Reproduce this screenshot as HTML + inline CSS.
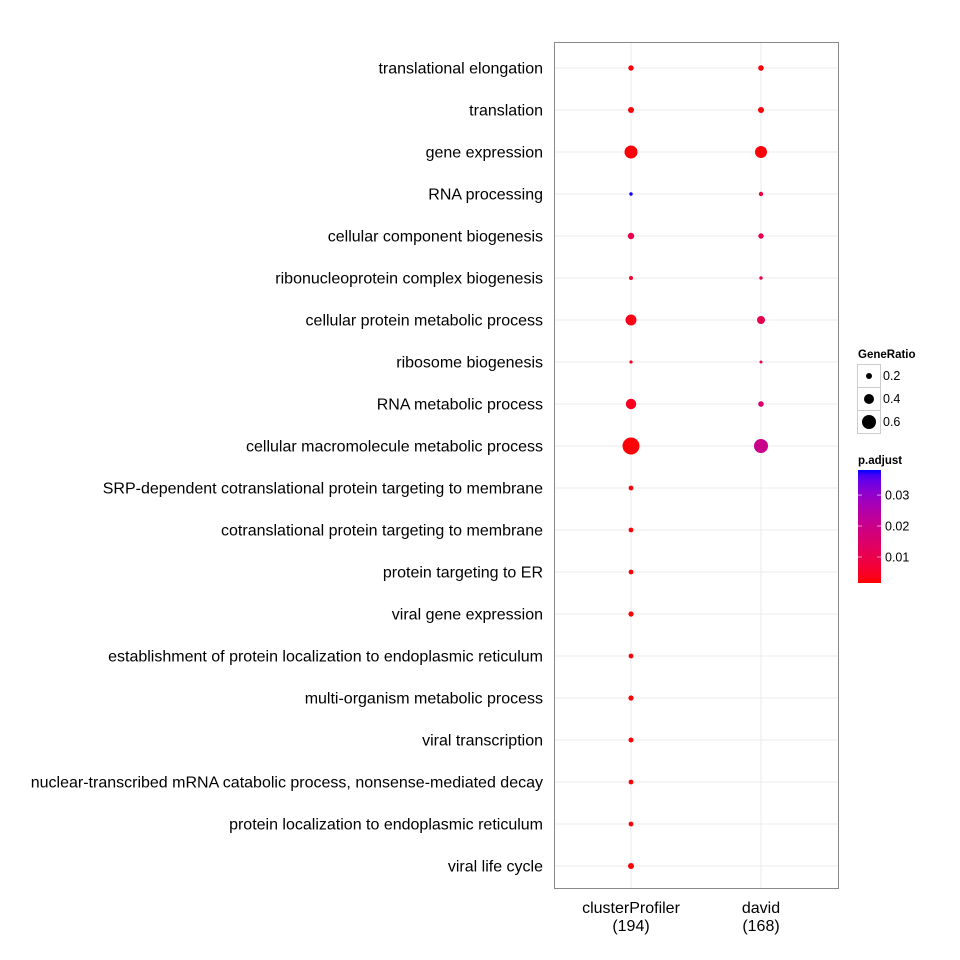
<!DOCTYPE html>
<html><head><meta charset="utf-8"><style>
body{margin:0;background:#fff}
svg{display:block;font-family:"Liberation Sans",Arial,sans-serif}
</style></head><body>
<svg id="chart" width="960" height="960" viewBox="0 0 960 960">
<rect width="960" height="960" fill="#fff"/>
<g id="grid"></g><g id="dots"></g><g id="labels"></g>
<rect x="554.5" y="42.5" width="284" height="846" fill="none" stroke="#888" stroke-width="1"/>
<g id="legend"></g>
</svg>
<script>
const categories=["translational elongation","translation","gene expression","RNA processing","cellular component biogenesis","ribonucleoprotein complex biogenesis","cellular protein metabolic process","ribosome biogenesis","RNA metabolic process","cellular macromolecule metabolic process","SRP-dependent cotranslational protein targeting to membrane","cotranslational protein targeting to membrane","protein targeting to ER","viral gene expression","establishment of protein localization to endoplasmic reticulum","multi-organism metabolic process","viral transcription","nuclear-transcribed mRNA catabolic process, nonsense-mediated decay","protein localization to endoplasmic reticulum","viral life cycle"];
const groups=["clusterProfiler","david"];
const groupCounts=["(194)","(168)"];
const cpRatio=[0.17,0.2,0.55,0.07,0.22,0.1,0.45,0.06,0.42,0.75,0.14,0.14,0.14,0.16,0.14,0.16,0.15,0.14,0.14,0.2];
const cpP=[0.002,0.002,0.002,0.038,0.01,0.005,0.003,0.005,0.004,0.002,0.002,0.002,0.002,0.002,0.002,0.002,0.002,0.002,0.002,0.002];
const davidRatio=[0.18,0.2,0.5,0.12,0.17,0.07,0.3,0.05,0.18,0.6,null,null,null,null,null,null,null,null,null,null];
const davidP=[0.002,0.002,0.002,0.008,0.01,0.01,0.011,0.012,0.016,0.02,null,null,null,null,null,null,null,null,null,null];
const sizeTicks=[0.2,0.4,0.6];
const pTicks=[0.01,0.02,0.03];
const pMin=0.0016,pMax=0.0381;
const NS="http://www.w3.org/2000/svg";
function mk(t,a,p){const e=document.createElementNS(NS,t);for(const k in a)e.setAttribute(k,a[k]);p.appendChild(e);return e;}
const yS=i=>68+i*42;
const xS=g=>631+g*130;
const rS=v=>1+10*v;
// Lab interpolation
function lin(c){c/=255;return c<=0.04045?c/12.92:Math.pow((c+0.055)/1.055,2.4);}
function delin(c){c=c<=0.0031308?12.92*c:1.055*Math.pow(c,1/2.4)-0.055;return Math.round(Math.max(0,Math.min(1,c))*255);}
function toLab(r,g,b){r=lin(r);g=lin(g);b=lin(b);
 let X=(0.4124*r+0.3576*g+0.1805*b)/0.95047,Y=(0.2126*r+0.7152*g+0.0722*b),Z=(0.0193*r+0.1192*g+0.9505*b)/1.08883;
 const f=t=>t>0.008856?Math.cbrt(t):7.787*t+16/116;X=f(X);Y=f(Y);Z=f(Z);
 return [116*Y-16,500*(X-Y),200*(Y-Z)];}
function fromLab(L,a,b){let Y=(L+16)/116,X=a/500+Y,Z=Y-b/200;
 const fi=t=>t*t*t>0.008856?t*t*t:(t-16/116)/7.787;X=fi(X)*0.95047;Y=fi(Y);Z=fi(Z)*1.08883;
 const r=3.2406*X-1.5372*Y-0.4986*Z,g=-0.9689*X+1.8758*Y+0.0415*Z,bb=0.0557*X-0.2040*Y+1.0570*Z;
 return [delin(r),delin(g),delin(bb)];}
const LR=toLab(255,0,0),LB=toLab(0,0,255);
function col(p){let t=(p-pMin)/(pMax-pMin);t=Math.max(0,Math.min(1,t));
 const c=fromLab(LR[0]+(LB[0]-LR[0])*t,LR[1]+(LB[1]-LR[1])*t,LR[2]+(LB[2]-LR[2])*t);return `rgb(${c[0]},${c[1]},${c[2]})`;}
const grid=document.getElementById('grid'),dots=document.getElementById('dots'),lab=document.getElementById('labels'),leg=document.getElementById('legend');
categories.forEach((c,i)=>{
  const l=mk('line',{x1:555,x2:838,y1:yS(i),y2:yS(i),stroke:'#ebebeb','stroke-width':1},grid);
  
  
  const t=mk('text',{x:543,y:yS(i)+5.5,'text-anchor':'end','font-size':16,fill:'#000'},lab);
  t.textContent=c;
  
  
});
groups.forEach((g,j)=>{
  const l=mk('line',{x1:xS(j),x2:xS(j),y1:43,y2:888,stroke:'#ebebeb','stroke-width':1},grid);
  
  
  const t=mk('text',{x:xS(j),y:913,'text-anchor':'middle','font-size':16},lab);
  t.textContent=g;
  
  
  const t2=mk('text',{x:xS(j),y:931,'text-anchor':'middle','font-size':16},lab);
  t2.textContent=groupCounts[j];
  
  
});
[[cpRatio,cpP],[davidRatio,davidP]].forEach(([R,P],j)=>{
  R.forEach((v,i)=>{if(v==null)return;
    const c=mk('circle',{cx:xS(j),cy:yS(i),r:rS(v),fill:col(P[i])},dots);
    
    
  });
});
let t=mk('text',{x:858,y:358,'font-size':11.5,'font-weight':'bold'},leg);t.textContent='GeneRatio';


sizeTicks.forEach((v,k)=>{const y0=364+k*23;
  const b=mk('rect',{x:857.5,y:y0+0.5,width:23,height:23,fill:'#fff',stroke:'#ccc'},leg);
  
  
  const c=mk('circle',{cx:869,cy:y0+12,r:rS(v)},leg);
  
  
  const tt=mk('text',{x:883,y:y0+16,'font-size':12.5},leg);tt.textContent=v.toFixed(1);
  
  
});
t=mk('text',{x:858,y:464,'font-size':11.5,'font-weight':'bold'},leg);t.textContent='p.adjust';


const defs=mk('defs',{},leg);const gr=mk('linearGradient',{id:'pg',x1:0,y1:1,x2:0,y2:0},defs);
for(let k=0;k<=20;k++){mk('stop',{offset:k/20,'stop-color':col(pMin+(pMax-pMin)*k/20)},gr);}
const bar=mk('rect',{x:858,y:470,width:23,height:113,fill:'url(#pg)'},leg);


const pY=p=>583-(p-pMin)/(pMax-pMin)*113;
pTicks.forEach(p=>{
  mk('line',{x1:858,x2:862,y1:pY(p),y2:pY(p),stroke:'#fff','stroke-opacity':0.6},leg);
  mk('line',{x1:877,x2:881,y1:pY(p),y2:pY(p),stroke:'#fff','stroke-opacity':0.6},leg);
  const tt=mk('text',{x:885,y:pY(p)+4.5,'font-size':12.5},leg);tt.textContent=p.toFixed(2);
  
  
});
</script>
</body></html>
